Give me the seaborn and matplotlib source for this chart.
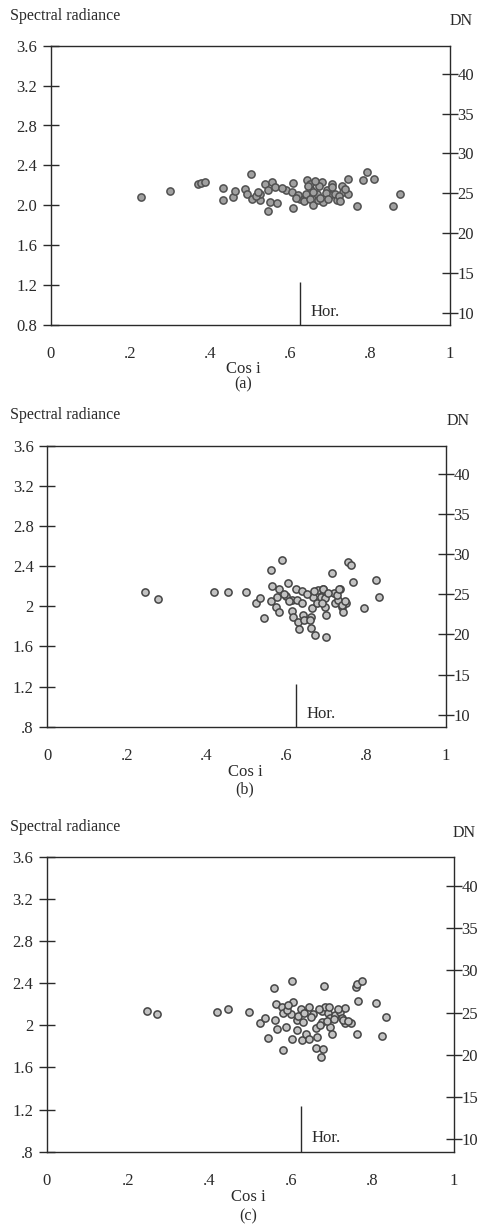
import matplotlib
matplotlib.use("Agg")
import matplotlib.pyplot as plt
import seaborn as sns

sns.set_style("white")
plt.rcParams["font.family"] = ["Liberation Serif", "DejaVu Serif"]

# ---- data: spectral radiance vs. cosine of incidence angle ----
cos_a = [0.226, 0.298, 0.368, 0.377, 0.387, 0.501, 0.433, 0.433, 0.458, 0.462,
         0.487, 0.491, 0.504, 0.524, 0.524, 0.537, 0.545, 0.554, 0.562, 0.549,
         0.566, 0.545, 0.589, 0.604, 0.608, 0.606, 0.625, 0.635, 0.641, 0.650,
         0.652, 0.639, 0.650, 0.658, 0.666, 0.670, 0.679, 0.683, 0.691, 0.700,
         0.704, 0.712, 0.718, 0.729, 0.733, 0.745, 0.745, 0.766, 0.783, 0.793,
         0.810, 0.858, 0.875, 0.515, 0.520, 0.580, 0.620, 0.645, 0.657, 0.675,
         0.690, 0.695, 0.705, 0.722, 0.725, 0.738, 0.672, 0.662, 0.614]
rad_a = [2.083, 2.140, 2.213, 2.220, 2.230, 2.310, 2.177, 2.050, 2.083, 2.143,
         2.167, 2.117, 2.067, 2.057, 2.117, 2.217, 2.157, 2.233, 2.183, 2.033,
         2.023, 1.940, 2.150, 2.133, 2.227, 1.977, 2.067, 2.043, 2.257, 2.217,
         2.157, 2.117, 2.067, 2.000, 2.117, 2.050, 2.233, 2.033, 2.157, 2.100,
         2.217, 2.117, 2.050, 2.190, 2.133, 2.267, 2.117, 1.990, 2.250, 2.333,
         2.267, 1.990, 2.117, 2.090, 2.130, 2.170, 2.100, 2.190, 2.130, 2.070,
         2.120, 2.060, 2.180, 2.090, 2.040, 2.160, 2.190, 2.240, 2.070]

cos_b = [0.246, 0.278, 0.419, 0.453, 0.499, 0.524, 0.534, 0.544, 0.561, 0.588,
         0.563, 0.561, 0.576, 0.582, 0.574, 0.582, 0.605, 0.599, 0.613, 0.615,
         0.617, 0.624, 0.626, 0.630, 0.632, 0.638, 0.638, 0.641, 0.645, 0.661,
         0.663, 0.667, 0.662, 0.672, 0.676, 0.680, 0.686, 0.691, 0.697, 0.697,
         0.698, 0.698, 0.715, 0.720, 0.722, 0.730, 0.734, 0.739, 0.743, 0.749,
         0.755, 0.761, 0.766, 0.794, 0.825, 0.832, 0.692, 0.705, 0.688, 0.726,
         0.740, 0.748, 0.732, 0.659, 0.651, 0.670, 0.606, 0.594]
rad_b = [2.139, 2.072, 2.139, 2.145, 2.139, 2.029, 2.079, 1.879, 2.361, 2.461,
         2.205, 2.052, 2.096, 2.168, 1.996, 1.946, 2.228, 2.105, 2.062, 1.956,
         1.896, 2.168, 2.062, 1.846, 1.770, 2.152, 2.036, 1.912, 1.863, 1.896,
         1.979, 2.096, 1.787, 1.713, 2.029, 2.162, 2.096, 2.168, 2.079, 1.996,
         1.912, 1.696, 2.334, 2.128, 2.029, 2.062, 2.168, 1.996, 1.946, 2.029,
         2.443, 2.410, 2.244, 1.979, 2.261, 2.096, 2.177, 2.130, 2.030, 2.112,
         2.010, 2.050, 2.177, 1.863, 2.120, 2.150, 2.050, 2.120]

cos_c = [0.246, 0.272, 0.419, 0.446, 0.498, 0.524, 0.535, 0.543, 0.559, 0.603,
         0.681, 0.760, 0.761, 0.775, 0.562, 0.561, 0.565, 0.577, 0.581, 0.587,
         0.581, 0.606, 0.600, 0.603, 0.614, 0.614, 0.625, 0.626, 0.629, 0.637,
         0.643, 0.645, 0.655, 0.661, 0.663, 0.661, 0.673, 0.678, 0.675, 0.675,
         0.683, 0.691, 0.694, 0.696, 0.696, 0.700, 0.708, 0.720, 0.724, 0.733,
         0.733, 0.747, 0.765, 0.761, 0.808, 0.833, 0.823, 0.589, 0.592, 0.618,
         0.632, 0.650, 0.668, 0.688, 0.715, 0.728, 0.740, 0.705, 0.670]
rad_c = [2.135, 2.107, 2.129, 2.158, 2.129, 2.018, 2.069, 1.882, 2.351, 2.417,
         2.373, 2.360, 2.392, 2.423, 2.202, 2.050, 1.965, 2.170, 2.113, 1.987,
         1.765, 2.224, 2.107, 1.867, 2.050, 1.955, 2.158, 1.860, 2.034, 1.917,
         2.170, 1.867, 2.107, 1.971, 1.892, 1.787, 1.702, 1.772, 2.135, 2.034,
         2.170, 2.120, 2.170, 2.066, 1.987, 1.914, 2.098, 2.129, 2.066, 2.161,
         2.018, 2.018, 2.234, 1.917, 2.215, 2.082, 1.898, 2.148, 2.190, 2.090,
         2.120, 2.080, 2.150, 2.040, 2.150, 2.050, 2.040, 2.060, 2.000]

x_ticks = [0, 0.2, 0.4, 0.6, 0.8, 1.0]
x_ticklabels = ["0", ".2", ".4", ".6", ".8", "1"]
y_ticks = [0.8, 1.2, 1.6, 2.0, 2.4, 2.8, 3.2, 3.6]
y_ticklabels_a = ["0.8", "1.2", "1.6", "2.0", "2.4", "2.8", "3.2", "3.6"]
y_ticklabels_bc = [".8", "1.2", "1.6", "2", "2.4", "2.8", "3.2", "3.6"]
dn_ticks = [10, 15, 20, 25, 30, 35, 40]
panel_tags = ["(a)", "(b)", "(c)"]

# radiance = DN_OFFSET + DN_GAIN * DN
DN_OFFSET = 0.12
DN_GAIN = 0.08
HORIZON_COS = 0.625
HORIZON_TOP = 1.23

W, H = 479, 1229
fig = plt.figure(figsize=(W / 100, H / 100), dpi=100)
fig.patch.set_facecolor("white")


def rect(left, right, top, bottom):
    return [left / W, 1 - bottom / H, (right - left) / W, (bottom - top) / H]


def fpos(x, y):
    return x / W, 1 - y / H


# panel geometry in pixels: left, right, top, bottom
boxes = [(50.5, 450, 45.7, 325), (47, 446, 445.7, 726.7), (46.5, 454, 856.7, 1151.7)]
# text anchors: title y, DN (x, y), x-label (x, y), tag y
texts = [
    (16, (473, 21), (243, 369), 384),
    (415, (470, 421), (245, 772), 789),
    (827, (476, 833), (248, 1197), 1216),
]
series = [(cos_a, rad_a), (cos_b, rad_b), (cos_c, rad_c)]
ylabels = [y_ticklabels_a, y_ticklabels_bc, y_ticklabels_bc]
face_cols = ["#a0a0a0", "#c2c2c2", "#c2c2c2"]
edge_cols = ["#505050", "#454545", "#454545"]
line_col = "#2a2a2a"

for i in range(3):
    ax = fig.add_axes(rect(*boxes[i]))
    cx, ry = series[i]
    sns.scatterplot(x=cx, y=ry, ax=ax, s=27, color=face_cols[i],
                    edgecolor=edge_cols[i], linewidth=1.1, zorder=3)
    ax.set_xlim(0, 1)
    ax.set_ylim(0.8, 3.6)
    ax.set_xticks(x_ticks)
    ax.set_xticklabels(x_ticklabels)
    ax.set_yticks(y_ticks)
    ax.set_yticklabels(ylabels[i])
    ax.tick_params(axis="x", length=0, pad=15, labelsize=12, colors=line_col)
    ax.tick_params(axis="y", direction="inout", length=11, width=1.0,
                   pad=4, labelsize=12, colors=line_col, left=True)
    for sp in ax.spines.values():
        sp.set_color(line_col)
        sp.set_linewidth(1.0)

    # horizon marker
    ax.vlines(HORIZON_COS, 0.8, HORIZON_TOP, color=line_col, lw=1.0)
    ax.text(HORIZON_COS + 0.025, 0.93, "Hor.", fontsize=12, color=line_col,
            ha="left", va="center")

    # DN scale on the right
    ax2 = ax.twinx()
    ax2.set_ylim((0.8 - DN_OFFSET) / DN_GAIN, (3.6 - DN_OFFSET) / DN_GAIN)
    ax2.set_yticks(dn_ticks)
    ax2.set_yticklabels([str(t) for t in dn_ticks])
    ax2.tick_params(axis="y", direction="inout", length=11, width=1.0,
                    pad=0, labelsize=12, colors=line_col, right=True)
    for sp in ax2.spines.values():
        sp.set_visible(False)

    ty, dn_xy, xl_xy, tag_y = texts[i]
    fig.text(*fpos(10, ty), "Spectral radiance", fontsize=11.5,
             ha="left", va="center", color=line_col)
    fig.text(*fpos(*dn_xy), "DN", fontsize=11.5, ha="right", va="center",
             color=line_col)
    fig.text(*fpos(*xl_xy), "Cos i", fontsize=12, ha="center", va="center",
             color=line_col)
    fig.text(*fpos(xl_xy[0], tag_y), panel_tags[i], fontsize=11.5,
             ha="center", va="center", color=line_col)

fig.savefig("out.png", dpi=100, facecolor="white")
